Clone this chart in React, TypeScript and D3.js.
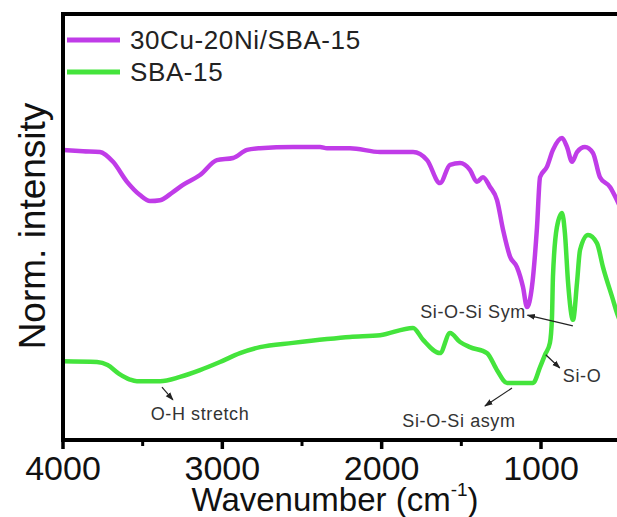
import React from "react";
import * as d3 from "d3";

// Wavenumber (cm^-1) sampled points and normalized intensity (0-100 scale)
const cuNiWavenumber = [4000, 3874, 3768, 3686, 3598, 3517, 3454, 3391, 3310, 3247, 3140, 3034, 2933, 2845, 2764, 2557, 2387, 2343, 2199, 2010, 1803, 1715, 1634, 1571, 1508, 1446, 1402, 1364, 1320, 1276, 1238, 1194, 1151, 1113, 1088, 1057, 1025, 1006, 963, 925, 868, 837, 805, 774, 724, 674, 630, 567, 523, 480, 440];
const cuNiIntensity = [68.1, 67.8, 67.6, 65.3, 60.6, 57.5, 56.1, 56.3, 58.2, 59.9, 62.2, 65.7, 66.2, 68.1, 68.5, 68.8, 68.8, 68.5, 68.5, 67.6, 67.6, 65.7, 60.3, 64.6, 65.0, 63.4, 60.6, 61.7, 59.4, 56.3, 49.3, 43.0, 40.6, 35.9, 31.2, 35.9, 50.0, 61.7, 64.1, 68.1, 70.9, 68.8, 65.3, 67.6, 68.8, 67.4, 61.7, 59.4, 56.3, 52.8, 49.3];

const sbaWavenumber = [4000, 3787, 3720, 3650, 3580, 3536, 3391, 3266, 3140, 3015, 2889, 2764, 2557, 2343, 2199, 2010, 1803, 1740, 1634, 1571, 1508, 1446, 1339, 1276, 1213, 1132, 1050, 1006, 975, 944, 931, 925, 900, 868, 850, 830, 799, 774, 755, 705, 649, 611, 548, 523, 480, 440];
const sbaIntensity = [18.5, 18.3, 17.6, 15.6, 14.2, 13.8, 13.8, 14.8, 16.4, 18.3, 20.4, 21.8, 22.8, 23.7, 24.2, 24.6, 26.3, 23.5, 20.4, 25.1, 23.0, 21.8, 20.4, 16.4, 13.4, 13.4, 13.4, 17.1, 20.0, 22.8, 28.9, 38.3, 50.0, 53.3, 48.6, 36.9, 28.2, 36.9, 44.6, 48.1, 46.2, 40.6, 32.9, 29.8, 25.8, 22.3];

const seriesNames = ["30Cu-20Ni/SBA-15", "SBA-15"];
const seriesColors = ["#c03ce8", "#44e43c"];

const majorTicks = [4000, 3000, 2000, 1000];
const minorTicks = [3500, 2500, 1500];

// annotations: label, text position (wn, value), arrow tail, arrow head, anchor
const annLabels = ["Si-O-Si Sym", "Si-O", "Si-O-Si asym", "O-H stretch"];
const annTextWn = [1095, 863, 1515, 3140];
const annTextVal = [28.6, 13.6, 3.1, 4.8];
const annAnchor = ["end", "start", "middle", "middle"];
const annTailWn = [800, 970, 1182, 3379];
const annTailVal = [26.8, 20.0, 12.2, 12.4];
const annHeadWn = [1085, 882, 1352, 3310];
const annHeadVal = [29.3, 16.9, 8.0, 9.4];

const W = 617;
const H = 517;
const left = 63;
const top = 14;
const bottom = 440;

export default function App() {
  const x = d3.scaleLinear().domain([4000, 400]).range([left, left + 3600 * (478 / 3000)]);
  const y = d3.scaleLinear().domain([0, 100]).range([bottom, top]);
  const line = d3
    .line<[number, number]>()
    .x((d) => x(d[0]))
    .y((d) => y(d[1]))
    .curve(d3.curveMonotoneX);

  const series = [
    cuNiWavenumber.map((w, i) => [w, cuNiIntensity[i]] as [number, number]),
    sbaWavenumber.map((w, i) => [w, sbaIntensity[i]] as [number, number]),
  ];

  const font = "'Liberation Sans', Arial, sans-serif";

  return (
    <svg width={W} height={H} style={{ position: "absolute", left: 0, top: 0, background: "#fff" }} fontFamily={font}>
      <defs>
        <clipPath id="plot">
          <rect x={left} y={top} width={W - left} height={bottom - top} />
        </clipPath>
        <marker id="arr" viewBox="0 0 10 10" refX="9" refY="5" markerWidth="7" markerHeight="7" orient="auto">
          <path d="M0,1.5 L10,5 L0,8.5 z" fill="#222" />
        </marker>
      </defs>
      <rect x={0} y={0} width={W} height={H} fill="#fff" />
      <g clipPath="url(#plot)">
        {series.map((s, i) => (
          <path key={i} d={line(s) || ""} fill="none" stroke={seriesColors[i]} strokeWidth={4.5} strokeLinejoin="round" />
        ))}
      </g>
      {/* frame */}
      <line x1={left} x2={W} y1={top} y2={top} stroke="#000" strokeWidth={4} />
      <line x1={left} x2={left} y1={top - 2} y2={bottom + 2} stroke="#000" strokeWidth={4} />
      <line x1={left - 2} x2={W} y1={bottom} y2={bottom} stroke="#000" strokeWidth={4} />
      {majorTicks.map((t) => (
        <g key={t}>
          <line x1={x(t)} x2={x(t)} y1={bottom} y2={bottom + 9} stroke="#000" strokeWidth={3.5} />
          <text x={x(t)} y={480} textAnchor="middle" fontSize={34} fill="#111">
            {t}
          </text>
        </g>
      ))}
      {minorTicks.map((t) => (
        <line key={t} x1={x(t)} x2={x(t)} y1={bottom} y2={bottom + 6} stroke="#000" strokeWidth={3} />
      ))}
      {/* axis titles */}
      <text x={335} y={511} textAnchor="middle" fontSize={33} fill="#111">
        Wavenumber (cm
        <tspan fontSize={19} dy={-15}>-1</tspan>
        <tspan dy={15}>)</tspan>
      </text>
      <text transform="translate(45,226) rotate(-90)" textAnchor="middle" fontSize={37} fill="#111">
        Norm. intensity
      </text>
      {/* legend */}
      {seriesNames.map((n, i) => (
        <g key={n}>
          <line x1={67} x2={120} y1={40 + i * 32} y2={40 + i * 32} stroke={seriesColors[i]} strokeWidth={5} />
          <text x={130} y={49 + i * 32} fontSize={26} fill="#222" letterSpacing={0.6}>
            {n}
          </text>
        </g>
      ))}
      {/* annotations */}
      {annLabels.map((l, i) => (
        <g key={l}>
          <line
            x1={x(annTailWn[i])}
            y1={y(annTailVal[i])}
            x2={x(annHeadWn[i])}
            y2={y(annHeadVal[i])}
            stroke="#222"
            strokeWidth={1.2}
            markerEnd="url(#arr)"
          />
          <text x={x(annTextWn[i])} y={y(annTextVal[i])} textAnchor={annAnchor[i]} fontSize={18} fill="#333" letterSpacing={0.6}>
            {l}
          </text>
        </g>
      ))}
    </svg>
  );
}
